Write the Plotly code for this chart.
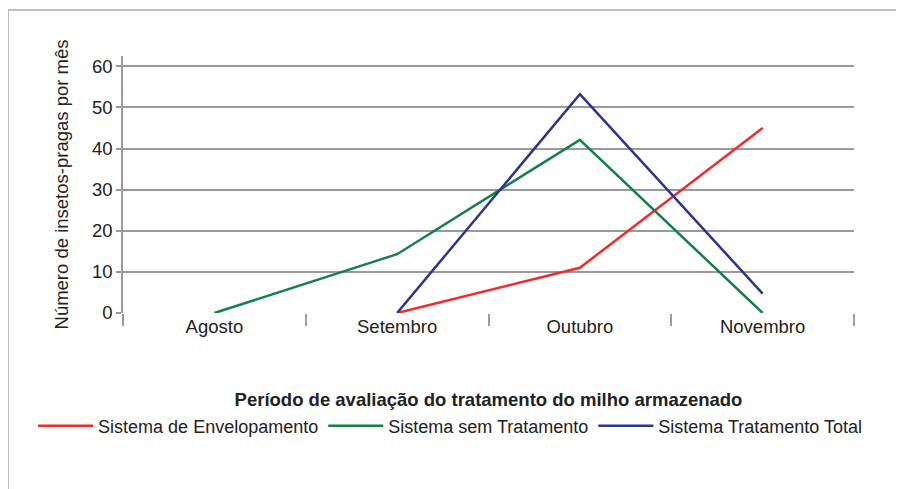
import plotly.graph_objects as go

meses = ["Agosto", "Setembro", "Outubro", "Novembro"]
envelopamento = [None, 0, 11, 45]
sem_tratamento = [0, 14.3, 42.1, 0]
tratamento_total = [None, 0, 53.2, 4.7]
y_ticks = [0, 10, 20, 30, 40, 50, 60]

FONT = "Liberation Sans, Arial, sans-serif"
GRID = "#9a9a9a"

fig = go.Figure()
fig.add_trace(go.Scatter(x=meses, y=envelopamento, mode="lines", name="Sistema de Envelopamento",
                         line=dict(color="#f22a2a", width=2.5)))
fig.add_trace(go.Scatter(x=meses, y=sem_tratamento, mode="lines", name="Sistema sem Tratamento",
                         line=dict(color="#138048", width=2.5)))
fig.add_trace(go.Scatter(x=meses, y=tratamento_total, mode="lines", name="Sistema Tratamento Total",
                         line=dict(color="#2b3494", width=2.5)))

# the page body adds an 8px offset; margins compensate so the plot lands where the reference has it
fig.update_layout(
    width=904, height=489,
    margin=dict(l=115, r=58, t=48, b=184, autoexpand=False),
    paper_bgcolor="white", plot_bgcolor="white",
    font=dict(family=FONT, size=18.5, color="#222222"),
    showlegend=True,
    legend=dict(orientation="h", x=-0.123, xanchor="left", y=-0.44, yanchor="middle",
                font=dict(size=18), itemwidth=55, traceorder="normal"),
    xaxis=dict(
        type="category", range=[-0.5, 3.5], automargin=False,
        showgrid=False, showline=False, zeroline=False,
        ticks="outside", tickson="boundaries", ticklen=12, tickcolor=GRID, tickwidth=1.5,
        tickfont=dict(size=18.5),
        title=dict(text="<b>Período de avaliação do tratamento do milho armazenado</b>",
                   font=dict(size=18.5), standoff=57),
    ),
    yaxis=dict(
        range=[0, 62.5], tickvals=y_ticks, automargin=False,
        showgrid=True, gridcolor=GRID, gridwidth=1.5,
        showline=True, linecolor=GRID, linewidth=1.5,
        zeroline=False,
        ticks="outside", ticklen=5, tickcolor=GRID, tickwidth=1.5,
        tickfont=dict(size=18.5),
        title=dict(text="Número de insetos-pragas por mês", font=dict(size=18.5), standoff=18),
    ),
    shapes=[dict(type="rect", xref="paper", yref="paper",
                 x0=-0.1573, y0=-1.0, x1=1.2, y1=1.179,
                 line=dict(color="#aaaaaa", width=1.5), fillcolor="rgba(0,0,0,0)", layer="below")],
)

fig.write_html("out.html")
